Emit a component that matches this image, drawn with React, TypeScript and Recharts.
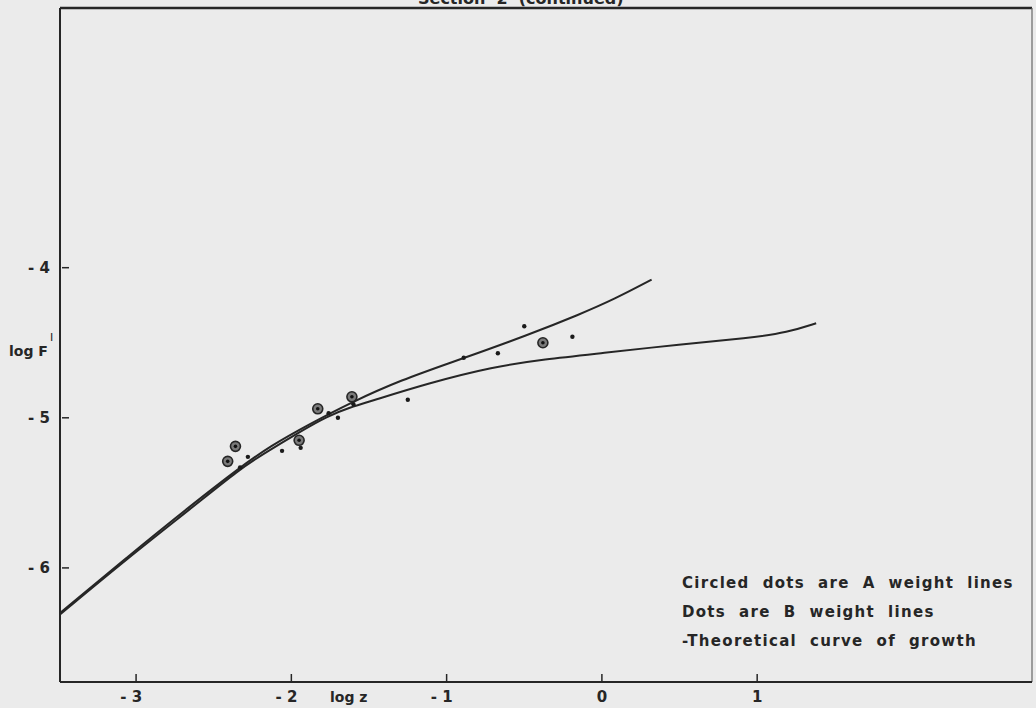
import { ComposedChart, Line, Scatter, XAxis, YAxis, ReferenceLine } from "recharts";

const INK = "#262626", BG = "#ebebeb";
const X_DOMAIN = [-3.49, 2.77], Y_DOMAIN = [-6.76, -2.27];
const X_TICKS = [-3, -2, -1, 0, 1];
const Y_TICKS = [-6, -5, -4];

// theoretical curves of growth
const curveAx = [-3.49, -3.06, -2.63, -2.33, -2.14, -1.88, -1.62, -1.3, -0.91, -0.48, -0.14, 0.08, 0.32];
const curveAy = [-6.3, -5.93, -5.57, -5.33, -5.19, -5.04, -4.9, -4.75, -4.61, -4.45, -4.31, -4.21, -4.08];
const curveBx = [-3.49, -3.06, -2.63, -2.33, -2.18, -1.94, -1.77, -1.62, -1.49, -1.12, -0.7, -0.37, -0.01, 0.51, 0.94, 1.2, 1.38];
const curveBy = [-6.31, -5.94, -5.59, -5.34, -5.24, -5.09, -4.99, -4.93, -4.89, -4.77, -4.66, -4.61, -4.57, -4.51, -4.47, -4.43, -4.37];

// circled dots = A weight lines, dots = B weight lines
const aX = [-2.36, -2.41, -1.95, -1.83, -1.61, -0.38];
const aY = [-5.19, -5.29, -5.15, -4.94, -4.86, -4.5];
const bX = [-2.33, -2.28, -2.06, -1.94, -1.76, -1.7, -1.6, -1.25, -0.89, -0.67, -0.5, -0.19];
const bY = [-5.33, -5.26, -5.22, -5.2, -4.97, -5.0, -4.91, -4.88, -4.6, -4.57, -4.39, -4.46];

const LEGEND = ["Circled  dots  are  A  weight  lines", "Dots  are  B  weight  lines", "-Theoretical  curve  of  growth"];

const zip = (xs: number[], ys: number[]) => xs.map((x, i) => ({ x, y: ys[i] }));
const lineA = zip(curveAx, curveAy), lineB = zip(curveBx, curveBy);
const dotsA = zip(aX, aY), dotsB = zip(bX, bY);

const FONT = "'DejaVu Sans', sans-serif";
const lbl = (v: number) => (v < 0 ? "- " + Math.abs(v) : String(v));

function YTick(p: any) {
  const { x, y, payload } = p;
  return (
    <g>
      <line x1={x + 10} x2={x + 17} y1={y} y2={y} stroke={INK} strokeWidth={1.5} />
      <text x={x - 2} y={y + 5} textAnchor="end" fontFamily={FONT} fontWeight="bold" fontSize={15} fill={INK}>{lbl(payload.value)}</text>
    </g>
  );
}
function XTick(p: any) {
  const { x, y, payload } = p;
  const v = payload.value;
  return (
    <g>
      <line x1={x} x2={x} y1={y - 16} y2={y - 8} stroke={INK} strokeWidth={1.5} />
      <text x={v < 0 ? x + 6 : x} y={y + 12} textAnchor={v < 0 ? "end" : "middle"} fontFamily={FONT} fontWeight="bold" fontSize={15} fill={INK}>{lbl(v)}</text>
    </g>
  );
}
const Ring = (p: any) => (
  <g>
    <circle cx={p.cx} cy={p.cy} r={5} fill="#7a7a7a" stroke={INK} strokeWidth={1.6} />
    <circle cx={p.cx} cy={p.cy} r={1.8} fill="#111" />
  </g>
);
const Dot = (p: any) => <circle cx={p.cx} cy={p.cy} r={2.2} fill="#1a1a1a" />;

export default function App() {
  return (
    <div style={{ position: "absolute", left: 0, top: 0, width: 1036, height: 708, background: BG, overflow: "hidden" }}>
      <ComposedChart width={1036} height={708} margin={{ top: 8, right: 4, left: 0, bottom: 0 }}>
        <XAxis type="number" dataKey="x" domain={X_DOMAIN} ticks={X_TICKS} allowDataOverflow height={26}
          axisLine={{ stroke: INK, strokeWidth: 2 }} tickLine={false} tickSize={0} tickMargin={8} tick={<XTick />} />
        <YAxis type="number" dataKey="y" domain={Y_DOMAIN} ticks={Y_TICKS} allowDataOverflow width={60}
          axisLine={{ stroke: INK, strokeWidth: 2 }} tickLine={false} tickSize={0} tickMargin={8} tick={<YTick />} />
        <ReferenceLine y={Y_DOMAIN[1]} stroke={INK} strokeWidth={2.5} />
        <ReferenceLine x={X_DOMAIN[1]} stroke="#666" strokeWidth={1.2} />
        <Line data={lineA} dataKey="y" type="basis" stroke={INK} strokeWidth={2} dot={false} isAnimationActive={false} />
        <Line data={lineB} dataKey="y" type="basis" stroke={INK} strokeWidth={2} dot={false} isAnimationActive={false} />
        <Scatter data={dotsB} dataKey="y" shape={<Dot />} isAnimationActive={false} />
        <Scatter data={dotsA} dataKey="y" shape={<Ring />} isAnimationActive={false} />
      </ComposedChart>
      <svg width={1036} height={708} style={{ position: "absolute", left: 0, top: 0, pointerEvents: "none" }}>
        <g fontFamily={FONT} fontWeight="bold" fill={INK}>
          <text x={418} y={4} fontSize={16} style={{ whiteSpace: "pre" }}>Section  2  (continued)</text>
          <text x={330} y={702} fontSize={14}>log z</text>
          <text x={9} y={356} fontSize={14}>log F</text>
          <text x={50} y={341} fontSize={11} fontWeight="normal">I</text>
          {LEGEND.map((t, i) => (
            <text key={i} x={682} y={588 + i * 29} fontSize={15} letterSpacing={1.3} style={{ whiteSpace: "pre" }}>{t}</text>
          ))}
        </g>
      </svg>
    </div>
  );
}
